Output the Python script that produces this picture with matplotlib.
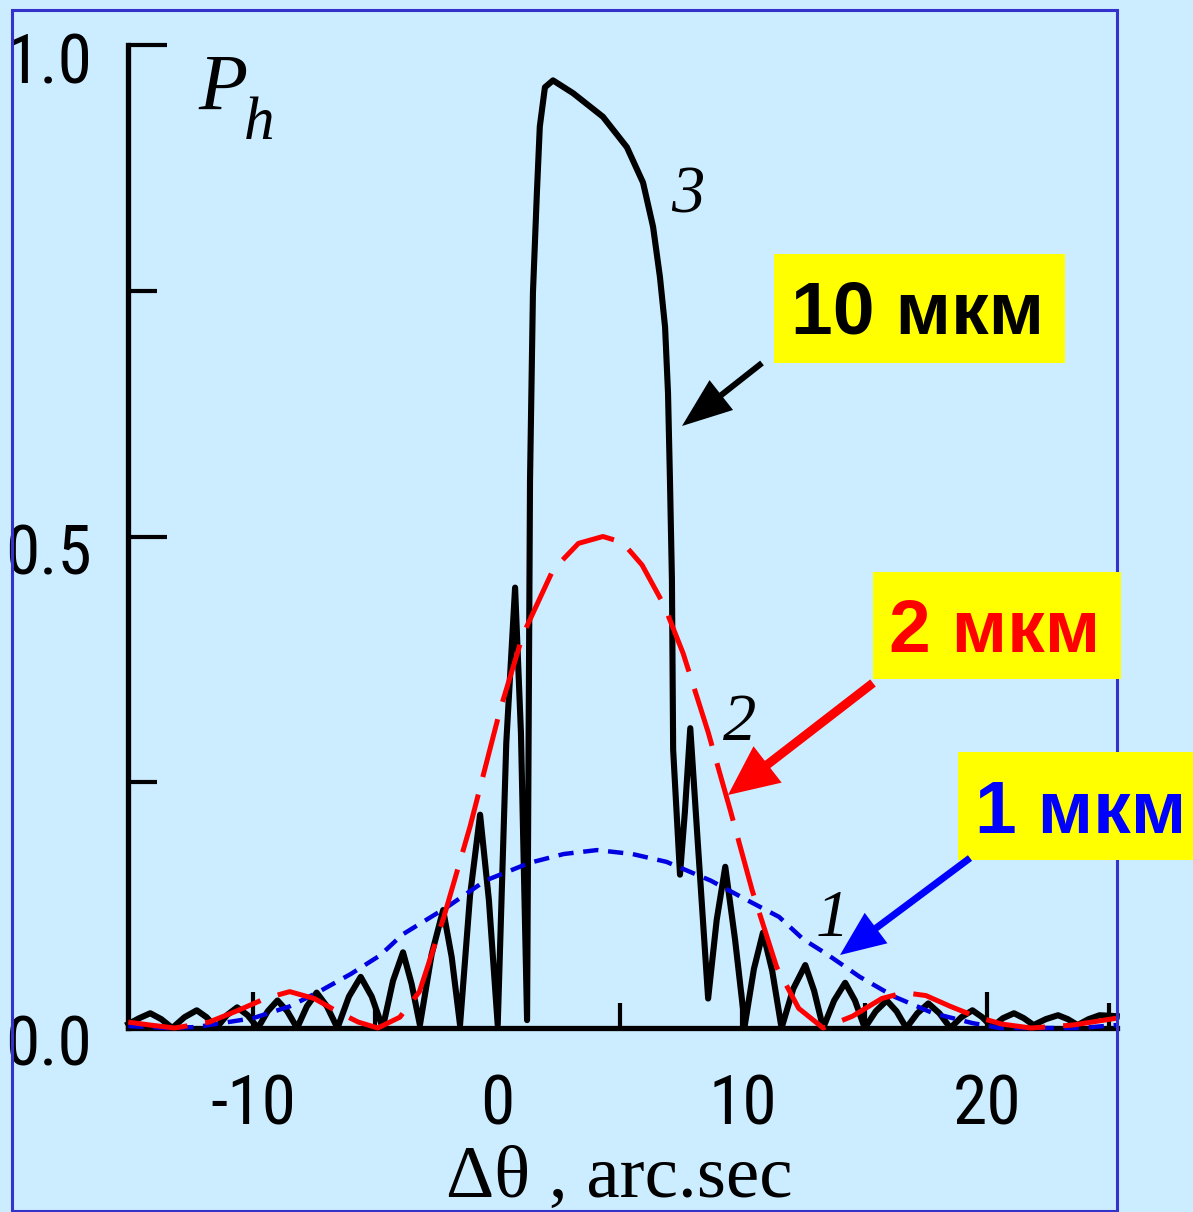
import matplotlib
matplotlib.use('Agg')
import matplotlib.pyplot as plt
from matplotlib import font_manager
from matplotlib.patches import Rectangle, FancyArrow
from matplotlib.transforms import ScaledTranslation

# curve 3 (10 мкм) - black solid
x3 = [-15.1, -14.65, -14.2, -13.75, -13.3, -12.8, -12.3, -11.9, -11.5, -11.07,
      -10.65, -10.22, -9.8, -9.4, -9.0, -8.6, -8.2, -7.8, -7.4, -6.98,
      -6.55, -6.08, -5.6, -5.15, -4.7, -4.28, -3.87, -3.52, -3.18, -2.7,
      -2.23, -1.88, -1.54, -1.13, -0.72, -0.36, 0.0, 0.35, 0.71, 0.95,
      1.2, 1.32, 1.44, 1.6, 1.72, 1.93, 2.26, 3.08, 4.3, 5.28,
      5.94, 6.35, 6.63, 6.84, 6.96, 7.04, 7.12, 7.17, 7.45, 7.65,
      7.87, 8.2, 8.6, 8.95, 9.3, 9.7, 10.1, 10.47, 10.84, 11.22,
      11.6, 12.08, 12.57, 12.93, 13.3, 13.75, 14.2, 14.6, 15.0, 15.45,
      15.9, 16.3, 16.7, 17.15, 17.6, 18.05, 18.5, 18.95, 19.4, 19.8,
      20.2, 20.65, 21.1, 21.5, 21.9, 22.4, 22.9, 23.3, 23.7, 24.15,
      24.6, 25.3]
p3 = [0.004, 0.010, 0.015, 0.009, 0.000, 0.011, 0.018, 0.011, 0.000, 0.013,
      0.021, 0.013, 0.000, 0.017, 0.028, 0.017, 0.000, 0.022, 0.036, 0.022,
      0.000, 0.032, 0.052, 0.032, 0.000, 0.048, 0.077, 0.045, 0.003, 0.075,
      0.120, 0.072, 0.003, 0.135, 0.217, 0.130, 0.003, 0.290, 0.448, 0.300,
      0.008, 0.557, 0.748, 0.849, 0.917, 0.957, 0.964, 0.951, 0.927, 0.896,
      0.860, 0.815, 0.764, 0.713, 0.646, 0.557, 0.456, 0.283, 0.156, 0.220,
      0.305, 0.180, 0.030, 0.110, 0.164, 0.090, 0.003, 0.060, 0.097, 0.058,
      0.000, 0.040, 0.064, 0.038, 0.000, 0.028, 0.046, 0.028, 0.000, 0.017,
      0.028, 0.017, 0.000, 0.015, 0.025, 0.015, 0.000, 0.011, 0.018, 0.011,
      0.001, 0.010, 0.015, 0.010, 0.003, 0.009, 0.013, 0.009, 0.003, 0.009,
      0.013, 0.012]

# curve 2 (2 мкм) - red dashed
x2 = [-15.1, -14.2, -13.2, -11.8, -10.6, -9.5, -8.5, -7.5, -6.5, -5.7,
      -4.9, -4.0, -3.2, -2.2, -1.13, 0.09, 1.03, 2.26, 3.3, 4.3,
      5.1, 5.9, 6.8, 7.58, 8.6, 9.5, 10.4, 11.4, 12.3, 13.3,
      14.5, 15.7, 16.6, 17.5, 18.5, 19.5, 20.6, 21.8, 23.5, 25.3]
p2 = [0.006, 0.003, 0.000, 0.006, 0.018, 0.030, 0.037, 0.030, 0.016, 0.006,
      0.000, 0.011, 0.037, 0.113, 0.205, 0.323, 0.400, 0.466, 0.493, 0.500,
      0.494, 0.471, 0.430, 0.381, 0.301, 0.222, 0.140, 0.062, 0.020, 0.000,
      0.012, 0.030, 0.036, 0.033, 0.022, 0.012, 0.004, 0.000, 0.003, 0.010]

# curve 1 (1 мкм) - blue dashed
x1 = [-15.1, -13.5, -12.3, -10.0, -8.5, -7.3, -6.0, -4.8, -3.9, -2.07,
      -0.5, 1.3, 2.7, 4.06, 5.5, 6.9, 8.7, 10.2, 11.5, 12.5,
      13.4, 14.8, 16.2, 17.8, 19.4, 20.5, 23.8, 25.3]
p1 = [0.002, 0.000, 0.001, 0.010, 0.022, 0.037, 0.055, 0.074, 0.095, 0.123,
      0.150, 0.168, 0.177, 0.181, 0.177, 0.169, 0.150, 0.130, 0.113, 0.090,
      0.076, 0.052, 0.032, 0.015, 0.005, 0.000, 0.000, 0.003]

xticks_major = [-10, 0, 10, 20]
xticks_minor = [-5, 5, 15, 25]
yticks_major = [0.0, 0.5, 1.0]
yticks_minor = [0.25, 0.75]
ytick_labels = ['0.0', '0.5', '1.0']

W, H, DPI = 1193, 1212, 100
BG = '#CCECFF'

names = {f.name for f in font_manager.fontManager.ttflist}
narrow = None
for cand in ['Liberation Sans Narrow', 'DejaVu Sans Condensed', 'Roboto Condensed']:
    if cand in names:
        narrow = cand
        break
tick_font = narrow if narrow else 'Liberation Sans'
tick_size = 50 if narrow else 40

plt.rcParams['font.family'] = [tick_font, 'DejaVu Sans']
plt.rcParams['lines.scale_dashes'] = False
plt.rcParams['axes.unicode_minus'] = False

fig = plt.figure(figsize=(W / DPI, H / DPI), dpi=DPI, facecolor=BG)


def fx(x):
    return x / W


def fy(y):
    return 1 - y / H


ax = fig.add_axes([fx(128), fy(1028), (1117 - 128) / W, (1028 - 45) / H])
ax.set_facecolor('none')
ax.set_xlim(-15.11, 25.31)
ax.set_ylim(0, 1.0)

ax.plot(x3, p3, color='black', lw=4.4, solid_joinstyle='round', clip_on=False, zorder=3)
ax.plot(x1, p1, color='#0000E0', lw=3.2, dashes=(11, 7), clip_on=False, zorder=4)
ax.plot(x2, p2, color='#FF0000', lw=3.6, dashes=(43, 13), clip_on=False, zorder=5)

for s in ['top', 'right']:
    ax.spines[s].set_visible(False)
for s in ['left', 'bottom']:
    ax.spines[s].set_linewidth(3.8)

ax.set_xticks(xticks_major)
ax.set_xticks(xticks_minor, minor=True)
ax.set_yticks(yticks_major)
ax.set_yticks(yticks_minor, minor=True)
ax.set_yticklabels(ytick_labels)
ax.tick_params(axis='x', which='major', direction='in', length=26, width=3, pad=32, labelsize=tick_size)
ax.tick_params(axis='x', which='minor', direction='in', length=18, width=3)
ax.tick_params(axis='y', which='major', direction='in', length=28, width=3, pad=26, labelsize=tick_size)
ax.tick_params(axis='y', which='minor', direction='in', length=21, width=3)
for lbl in ax.get_yticklabels():
    lbl.set_transform(lbl.get_transform() + ScaledTranslation(0, -0.12, fig.dpi_scale_trans))

# axis titles
serif = ['Liberation Serif', 'DejaVu Serif']
fig.text(fx(198), fy(110), 'P', family=serif, style='italic', fontsize=58, va='baseline')
fig.text(fx(244), fy(139), 'h', family=serif, style='italic', fontsize=44, va='baseline')
fig.text(fx(619), fy(1197), 'Δθ , arc.sec', family=serif, fontsize=54, ha='center', va='baseline')

# curve numbers
for txt, (cx, cy) in zip(['3', '2', '1'], [(688, 196), (740, 723), (832, 920)]):
    fig.text(fx(cx), fy(cy), txt, family=serif, style='italic', fontsize=48,
             ha='center', va='center')

# outer frame
fig.add_artist(Rectangle((fx(12), fy(1211)), (1117 - 12) / W, (1211 - 10) / H,
                         fill=False, ec='#3333CC', lw=2.2, transform=fig.transFigure, zorder=0.5))

# yellow labels
boxes = [(774, 254, 1065, 363), (873, 572, 1121, 679), (958, 752, 1193, 860)]
label_pos = [(918, 333), (995, 652), (1081, 833)]
labels = ['10 мкм', '2 мкм', '1 мкм']
label_colors = ['black', '#FF0000', '#0000FF']
for (x0, y0, x1b, y1b), (tx, ty), txt, c in zip(boxes, label_pos, labels, label_colors):
    fig.add_artist(Rectangle((fx(x0), fy(y1b)), (x1b - x0) / W, (y1b - y0) / H,
                             fc='yellow', ec='none', transform=fig.transFigure, zorder=2))
    fig.text(fx(tx), fy(ty), txt, family=['Liberation Sans', 'DejaVu Sans'], weight='bold',
             fontsize=54, color=c, ha='center', va='baseline', zorder=3)


# arrows (pixel coords of the picture, top-left origin)
def arrow(tail, tip, color, width, head_w, head_l):
    x0, y0 = tail[0] / DPI, (H - tail[1]) / DPI
    x1a, y1a = tip[0] / DPI, (H - tip[1]) / DPI
    fig.add_artist(FancyArrow(x0, y0, x1a - x0, y1a - y0, width=width / DPI,
                              head_width=head_w / DPI, head_length=head_l / DPI,
                              length_includes_head=True, color=color, lw=0,
                              transform=fig.dpi_scale_trans, zorder=3))


arrow((762, 363), (682, 426), 'black', 6, 38, 50)
arrow((873, 683), (728, 795), '#FF0000', 9, 46, 50)
arrow((970, 858), (840, 955), '#0000FF', 7, 38, 45)

fig.savefig('out.png', dpi=DPI, facecolor=BG)
